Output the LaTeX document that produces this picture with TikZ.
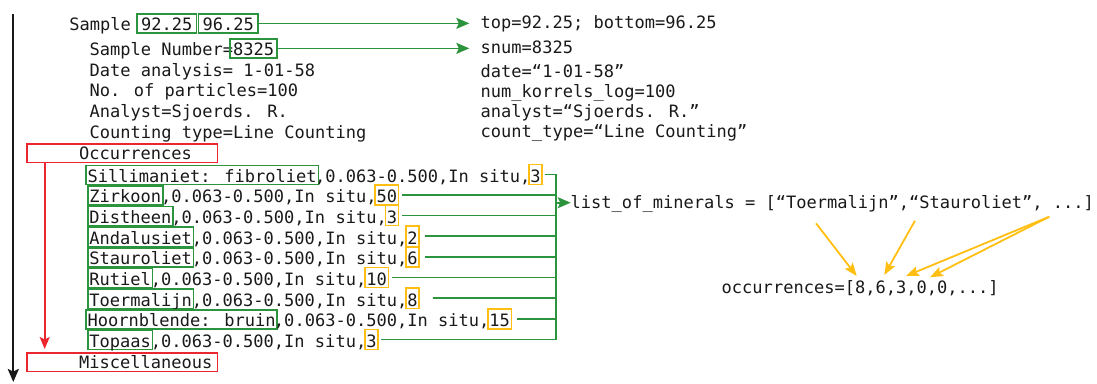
\documentclass[tikz,border=0pt]{standalone}
\usepackage{fontspec}
\newfontfamily\mono{DejaVu Sans Mono}
\usetikzlibrary{arrows.meta,calc}
\definecolor{gr}{RGB}{44,148,60}
\definecolor{rd}{RGB}{235,38,46}
\definecolor{orn}{RGB}{255,190,16}
\definecolor{ink}{RGB}{25,25,25}
\newcommand{\cw}{10.26}
\newcommand{\mx}{89.3}
\begin{document}
\begin{tikzpicture}[x=1pt,y=-1pt,
  every node/.style={font=\mono\fontsize{17.04pt}{20pt}\selectfont, text=ink},
  seg/.style={inner sep=0pt, outer sep=0pt, anchor=base west},
  gbox/.style={draw=gr, line width=1.6pt, inner xsep=#1, inner ysep=0pt, outer sep=0pt, anchor=base, text height=17pt, text depth=2.3pt},
  gbox/.default=1.6pt,
  obox/.style={draw=orn, line width=1.6pt, inner xsep=1.5pt, inner ysep=0pt, outer sep=0pt, anchor=base, text height=18pt, text depth=2.3pt},
  rbox/.style={draw=rd, line width=1.6pt, inner sep=0pt, outer sep=0pt, anchor=base west, text height=15.3pt, text depth=3.3pt},
  gline/.style={draw=gr, line width=1.6pt},
  garrow/.style={gline, -{Stealth[length=13pt,width=11pt,inset=2.5pt]}},
  rarrow/.style={draw=rd, line width=1.7pt, -{Stealth[length=12pt,width=10pt,inset=2.5pt]}},
  oarrow/.style={draw=orn, line width=1.8pt, -{Stealth[length=13pt,width=10pt,inset=2.5pt]}},
  axisline/.style={draw=ink, line width=2.2pt, -{Stealth[length=13pt,width=11pt,inset=2.5pt]}},
]
\useasboundingbox (0,0) rectangle (1097,383);

% vertical axis
\coordinate (axtop) at (13.3,14);
\coordinate (axbot) at (13.3,382);
\draw[axisline] (axtop) -- (axbot);

% header block
\node[seg] (s0) at (69.3,30.7) {Sample};
\node[gbox=4.2pt] (b1) at ({69.3+9.5*\cw},30.7) {92.25};
\node[gbox=4.2pt] (b2) at ({69.3+15.5*\cw},30.7) {96.25};
\node[seg] (s1) at (89.5,55.7) {Sample Number=};
\node[gbox=3pt] (b3) at ({89.5+16*\cw},55.7) {8325};
\node[seg] (s2) at (89.5,76.2) {Date analysis= 1-01-58};
\node[seg] (s3) at (89.5,96.8) {No. of particles=100};
\node[seg] (s4) at (89.5,117.4) {Analyst=Sjoerds. R.};
\node[seg] (s5) at (89.5,138) {Counting type=Line Counting};

% right column
\node[seg] (r0) at (480.7,28.3) {top=92.25; bottom=96.25};
\node[seg] (r1) at (480.7,53.3) {snum=8325};
\node[seg] (r2) at (480.7,77) {date=“1-01-58”};
\node[seg] (r3) at (480.7,97) {num\_korrels\_log=100};
\node[seg] (r4) at (480.7,117) {analyst=“Sjoerds. R.”};
\node[seg] (r5) at (480.7,137) {count\_type=“Line Counting”};

\draw[garrow, shorten >=11.4pt] (b2.east) -- (b2.east -| r0.west);
\draw[garrow, shorten >=11.4pt] (b3.east) -- (b3.east -| r1.west);

% red section boxes
\node[rbox] (occ) at (26.7,159.3) {\makebox[190.6pt][l]{\hspace*{52.3pt}Occurrences}};
\node[rbox] (misc) at (26.7,368.3) {\makebox[190.6pt][l]{\hspace*{52.3pt}Miscellaneous}};
\draw[rarrow, shorten >=4pt] ([xshift=18pt]occ.south west) -- ([xshift=18pt]misc.north west);

% mineral lines
\node[gbox] (m1) at ({\mx+11*\cw},182.3) {Sillimaniet: fibroliet};
\node[seg] (t1) at ({\mx+22*\cw},182.3) {,0.063-0.500,In situ,};
\node[obox] (o1) at ({\mx+43.5*\cw},182.3) {3};

\node[gbox] (m2) at ({\mx+3.5*\cw},202.7) {Zirkoon};
\node[seg] (t2) at ({\mx+7*\cw},202.7) {,0.063-0.500,In situ,};
\node[obox] (o2) at ({\mx+29*\cw},202.7) {50};

\node[gbox] (m3) at ({\mx+4*\cw},223.3) {Distheen};
\node[seg] (t3) at ({\mx+8*\cw},223.3) {,0.063-0.500,In situ,};
\node[obox] (o3) at ({\mx+29.5*\cw},223.3) {3};

\node[gbox] (m4) at ({\mx+5*\cw},244) {Andalusiet};
\node[seg] (t4) at ({\mx+10*\cw},244) {,0.063-0.500,In situ,};
\node[obox] (o4) at ({\mx+31.5*\cw},244) {2};

\node[gbox] (m5) at ({\mx+5*\cw},264.7) {Stauroliet};
\node[seg] (t5) at ({\mx+10*\cw},264.7) {,0.063-0.500,In situ,};
\node[obox] (o5) at ({\mx+31.5*\cw},264.7) {6};

\node[gbox] (m6) at ({\mx+3*\cw},285.3) {Rutiel};
\node[seg] (t6) at ({\mx+6*\cw},285.3) {,0.063-0.500,In situ,};
\node[obox] (o6) at ({\mx+28*\cw},285.3) {10};

\node[gbox] (m7) at ({\mx+5*\cw},306) {Toermalijn};
\node[seg] (t7) at ({\mx+10*\cw},306) {,0.063-0.500,In situ,};
\node[obox] (o7) at ({\mx+31.5*\cw},306) {8};

\node[gbox] (m8) at ({\mx+9*\cw},326.7) {Hoornblende: bruin};
\node[seg] (t8) at ({\mx+18*\cw},326.7) {,0.063-0.500,In situ,};
\node[obox] (o8) at ({\mx+40*\cw},326.7) {15};

\node[gbox] (m9) at ({\mx+3*\cw},347.3) {Topaas};
\node[seg] (t9) at ({\mx+6*\cw},347.3) {,0.063-0.500,In situ,};
\node[obox] (o9) at ({\mx+27.5*\cw},347.3) {3};

% collecting bus
\coordinate (bus) at (556,202.7);
\draw[gline] ([xshift=2.7pt]o1.east) -- (o1.east -| bus) -- (o9.east -| bus) -- ([xshift=3.3pt]o9.east);
\draw[gline] ([xshift=3.7pt]o2.east) -- (o2.east -| bus);
\draw[gline] ([xshift=3.7pt]o3.east) -- (o3.east -| bus);
\draw[gline] ([xshift=6pt]o4.east) -- (o4.east -| bus);
\draw[gline] ([xshift=6pt]o5.east) -- (o5.east -| bus);
\draw[gline] ([xshift=4pt]o6.east) -- (o6.east -| bus);
\draw[gline] ([xshift=14.3pt]o7.east) -- (o7.east -| bus);
\draw[gline] ([xshift=5.3pt]o8.east) -- (o8.east -| bus);

\node[seg] (lom) at (570.7,208.3) {list\_of\_minerals = [“Toermalijn”,“Stauroliet”, ...]};
\draw[garrow] (bus) -- (bus -| lom.west);

\node[seg] (ocl) at (721.7,293.3) {occurrences=[8,6,3,0,0,...]};

\coordinate (a1) at (816,223.3);
\coordinate (a2) at (915,220.7);
\coordinate (a3) at (1049.3,216.7);
\coordinate (e1) at (856.7,276);
\coordinate (e2) at (884.3,275);
\coordinate (e3) at (906,276);
\coordinate (e4) at (930,277.3);
\draw[oarrow] (a1) -- (e1);
\draw[oarrow] (a2) -- (e2);
\draw[oarrow] (a3) -- (e3);
\draw[oarrow] (a3) -- (e4);
\end{tikzpicture}
\end{document}
